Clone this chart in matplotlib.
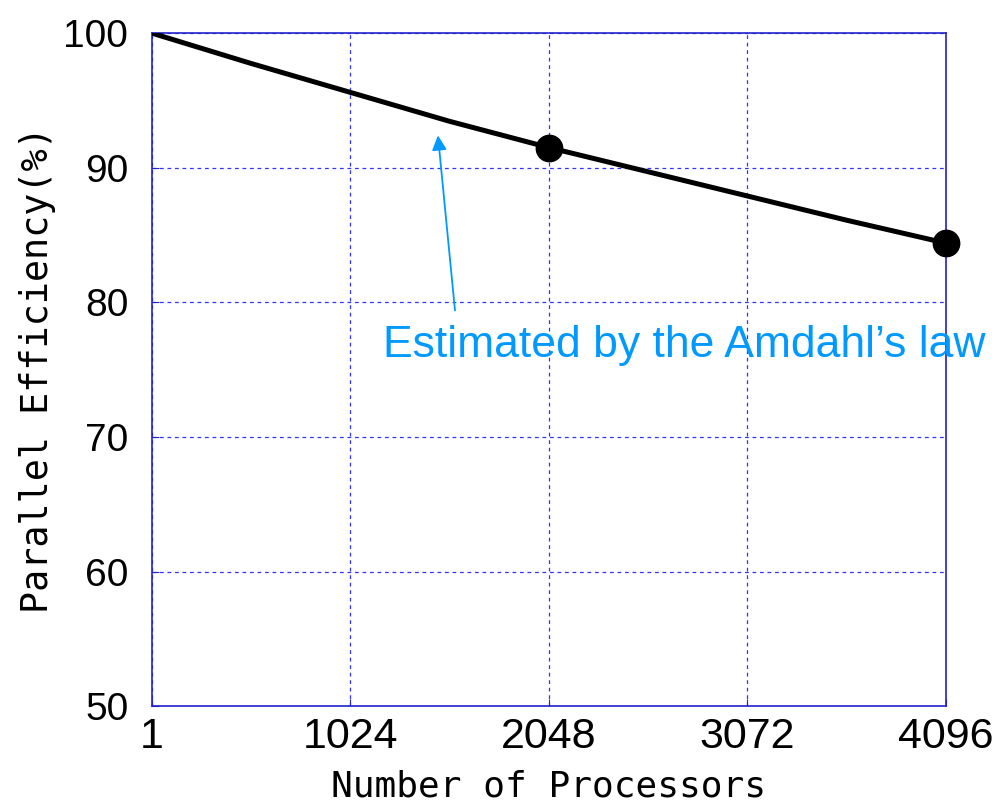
import matplotlib
matplotlib.use("Agg")
import matplotlib.pyplot as plt

# Amdahl curve
processors = [1, 512, 1024, 1536, 2048, 2560, 3072, 3584, 4096]
efficiency = [100.0, 97.75, 95.6, 93.45, 91.5, 89.7, 87.9, 86.1, 84.4]

# measured points (filled dots)
meas_x = [2048, 4096]
meas_y = [91.5, 84.4]

xticks = [1, 1024, 2048, 3072, 4096]
yticks = [50, 60, 70, 80, 90, 100]

GRID = "#3333ff"
ANNOT = "#0099ff"

fig = plt.figure(figsize=(9.99, 8.08), dpi=100)
ax = fig.add_axes([0.152, 0.126, 0.795, 0.833])

ax.plot(processors, efficiency, color="black", linewidth=3.6, zorder=3,
        solid_capstyle="butt", solid_joinstyle="round")
ax.plot(meas_x, meas_y, "o", color="black", markersize=19, zorder=4,
        clip_on=False)

ax.set_xlim(1, 4096)
ax.set_ylim(50, 100)
ax.set_xticks(xticks)
ax.set_yticks(yticks)

ax.grid(True, color=GRID, linestyle=(0, (3, 3)), linewidth=0.9)
for s in ax.spines.values():
    s.set_color("#2222cc")
    s.set_linewidth(1.2)

ax.tick_params(axis="both", direction="in", length=5, color="#2222cc")
ax.tick_params(axis="y", pad=17, labelsize=28)
ax.tick_params(axis="x", pad=8)
for lab in ax.get_yticklabels():
    lab.set_family(["Liberation Sans", "DejaVu Sans"])
for lab in ax.get_xticklabels():
    lab.set_family(["Liberation Sans Narrow", "Liberation Sans", "DejaVu Sans"])
    lab.set_fontsize(31)

ax.set_xlabel("Number of Processors", fontsize=26, family="DejaVu Sans Mono",
              labelpad=9)
ax.set_ylabel("Parallel Efficiency(%)", fontsize=26.5, family="DejaVu Sans Mono",
              labelpad=5)

ax.annotate("", xy=(1476, 92.4), xytext=(1564, 79.4),
            arrowprops=dict(arrowstyle="-|>", color=ANNOT, lw=1.3,
                            mutation_scale=22, shrinkA=0, shrinkB=0))
ax.text(1192, 76.8, "Estimated by the Amdahl\u2019s law", color=ANNOT,
        fontsize=32, family=["Liberation Sans", "DejaVu Sans"],
        ha="left", va="center")

fig.savefig("out.png", dpi=100, facecolor="white")
